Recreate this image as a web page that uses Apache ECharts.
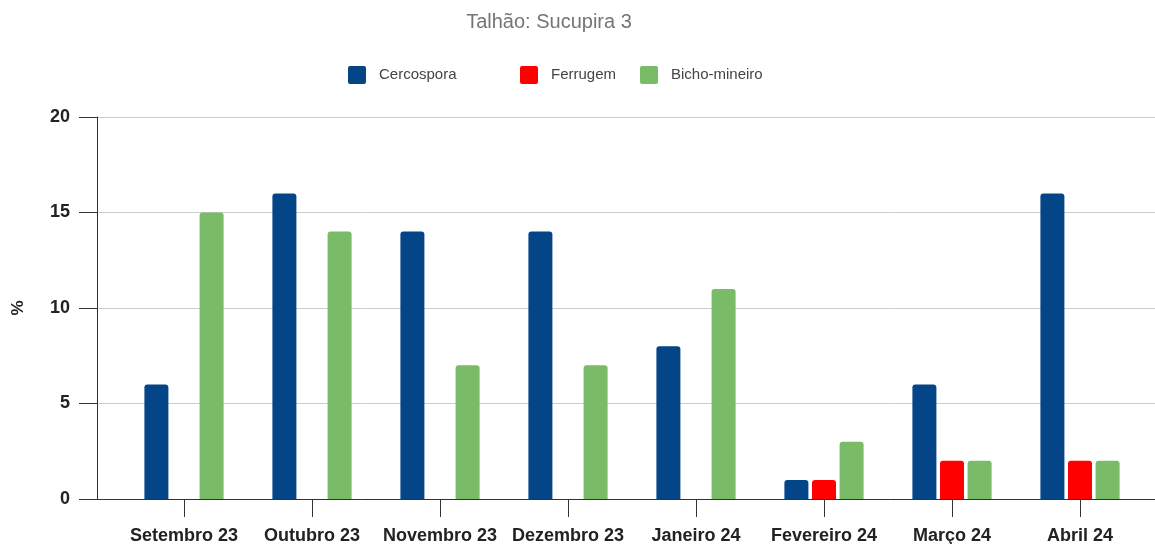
<!DOCTYPE html>
<html>
<head>
<meta charset="utf-8">
<script src="https://cdn.jsdelivr.net/npm/echarts@6/dist/echarts.min.js"></script>
<style>html,body{margin:0;padding:0;background:#fff}#c{width:1155px;height:544px}</style>
</head>
<body>
<div id="c"></div>
<script>
const categories = ['Setembro 23','Outubro 23','Novembro 23','Dezembro 23','Janeiro 24','Fevereiro 24','Março 24','Abril 24'];
const cercospora = [6, 16, 14, 14, 8, 1, 6, 16];
const ferrugem = [null, null, null, null, null, 1, 2, 2];
const bichoMineiro = [15, 14, 7, 7, 11, 3, 2, 2];
const yTicks = { min: 0, max: 20, interval: 5 };

const FONT = 'Arial, "Liberation Sans", sans-serif';
const chart = echarts.init(document.getElementById('c'), null, { renderer: 'canvas' });

const ICON = 'path://M2,0H16Q18,0 18,2V16Q18,18 16,18H2Q0,18 0,16V2Q0,0 2,0Z';
function legendItem(name, left) {
  return {
    data: [name], left: left, top: 66, padding: 0, itemWidth: 18, itemHeight: 18,
    icon: ICON, itemStyle: { borderWidth: 0 },
    textStyle: { color: '#444', fontSize: 15, fontFamily: FONT, padding: [2, 0, 0, 8] }
  };
}

chart.setOption({
  animation: false,
  textStyle: { fontFamily: FONT },
  title: {
    text: 'Talhão: Sucupira 3', left: 549, top: 12, padding: 0, textAlign: 'center',
    textStyle: { color: '#757575', fontSize: 20, fontWeight: 'normal', fontFamily: FONT }
  },
  legend: [legendItem('Cercospora', 348), legendItem('Ferrugem', 520), legendItem('Bicho-mineiro', 640)],
  grid: [
    { left: 97, right: 0, top: 117, bottom: 45, containLabel: false, outerBoundsMode: 'none' },
    { left: 120, right: 11, top: 117, bottom: 45, containLabel: false, outerBoundsMode: 'none' }
  ],
  xAxis: [
    { type: 'value', gridIndex: 0, min: 0, max: 1, axisLine: { show: true, lineStyle: { color: '#333', width: 1 } },
      axisTick: { show: false }, axisLabel: { show: false }, splitLine: { show: false } },
    { type: 'category', gridIndex: 1, data: categories,
      axisLine: { show: false },
      axisTick: { show: true, alignWithLabel: true, length: 18, lineStyle: { color: '#333' } },
      axisLabel: { interval: 0, margin: 28, color: '#222', fontSize: 18, fontWeight: 'bold', fontFamily: FONT } }
  ],
  yAxis: [
    { type: 'value', gridIndex: 0, min: yTicks.min, max: yTicks.max, interval: yTicks.interval,
      name: '%', nameLocation: 'middle', nameGap: 70, nameRotate: 90,
      nameTextStyle: { color: '#222', fontSize: 17, fontWeight: 'bold', fontFamily: FONT },
      axisLine: { show: true, lineStyle: { color: '#333', width: 1 } },
      axisTick: { show: true, length: 18, lineStyle: { color: '#333' } },
      axisLabel: { margin: 27, color: '#222', fontSize: 18, fontWeight: 'bold', fontFamily: FONT },
      splitLine: { show: true, lineStyle: { color: '#cccccc', width: 1 } } },
    { type: 'value', gridIndex: 1, min: yTicks.min, max: yTicks.max, interval: yTicks.interval, show: false,
      splitLine: { show: false } }
  ],
  series: [
    { name: 'Cercospora', type: 'bar', xAxisIndex: 1, yAxisIndex: 1, data: cercospora, barWidth: 24, barGap: '15%',
      itemStyle: { color: '#034587', borderRadius: [3, 3, 0, 0] } },
    { name: 'Ferrugem', type: 'bar', xAxisIndex: 1, yAxisIndex: 1, data: ferrugem, barWidth: 24, barGap: '15%',
      itemStyle: { color: '#ff0000', borderRadius: [3, 3, 0, 0] } },
    { name: 'Bicho-mineiro', type: 'bar', xAxisIndex: 1, yAxisIndex: 1, data: bichoMineiro, barWidth: 24, barGap: '15%',
      itemStyle: { color: '#79bb66', borderRadius: [3, 3, 0, 0] } }
  ]
});
</script>
</body>
</html>
